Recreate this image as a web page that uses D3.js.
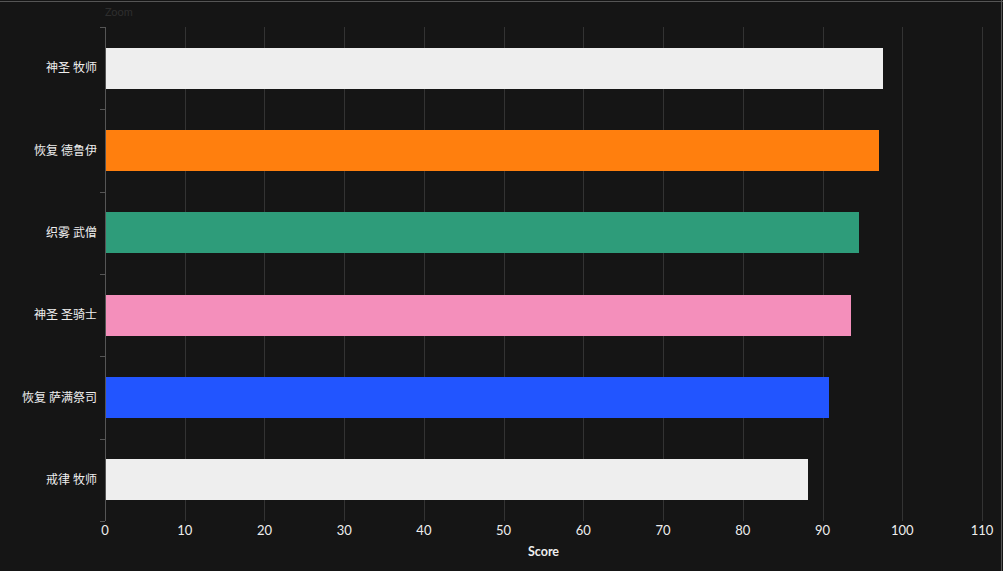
<!DOCTYPE html>
<html><head><meta charset="utf-8">
<script src="https://cdn.jsdelivr.net/npm/d3@7"></script>
<style>
html,body{margin:0;padding:0;background:#151515;}
svg{display:block;}
</style></head><body>
<svg id="c" width="1003" height="571"></svg>
<script>
const categories = ["神圣 牧师","恢复 德鲁伊","织雾 武僧","神圣 圣骑士","恢复 萨满祭司","戒律 牧师"];
const scores = [97.6, 97.1, 94.6, 93.6, 90.8, 88.2];
const barColors = ["#eeeeee","#ff7f0e","#2e9c7a","#f48fbb","#2255ff","#eeeeee"];
const xTicks = [0,10,20,30,40,50,60,70,80,90,100,110];

const svg = d3.select("#c");
const W = 1003, H = 571;
const m = {left:105, right:21, top:27, bottom:50};
const font = "Lato, 'Noto Sans CJK SC', sans-serif";

svg.append("rect").attr("x",0).attr("y",0).attr("width",W).attr("height",H).attr("fill","#151515");
// frame
svg.append("line").attr("x1",0).attr("x2",W).attr("y1",1.5).attr("y2",1.5).attr("stroke","#555");
svg.append("line").attr("x1",W-1.5).attr("x2",W-1.5).attr("y1",0).attr("y2",H).attr("stroke","#555");

const x = d3.scaleLinear().domain([0,110]).range([m.left, W - m.right]);
const y = d3.scaleBand().domain(categories).range([m.top, H - m.bottom]).paddingInner(0.5).paddingOuter(0.25);

// gridlines
svg.append("g").selectAll("line").data(xTicks.slice(1)).join("line")
  .attr("x1",d=>Math.round(x(d))+0.5).attr("x2",d=>Math.round(x(d))+0.5)
  .attr("y1",m.top).attr("y2",H - m.bottom)
  .attr("stroke","#333").attr("stroke-width",1);

// bars
svg.append("g").attr("shape-rendering","crispEdges").selectAll("rect").data(categories).join("rect")
  .attr("x",x(0)).attr("y",d=>y(d))
  .attr("width",(d,i)=>x(scores[i]) - x(0))
  .attr("height",y.bandwidth())
  .attr("fill",(d,i)=>barColors[i]);

// y axis line
svg.append("line").attr("x1",m.left+0.5).attr("x2",m.left+0.5)
  .attr("y1",m.top).attr("y2",H - m.bottom).attr("stroke","#555");
// y band-edge ticks
const edges = d3.range(categories.length+1).map(i => m.top + i*(H - m.bottom - m.top)/categories.length);
svg.append("g").selectAll("line").data(edges).join("line")
  .attr("x1",m.left-5).attr("x2",m.left)
  .attr("y1",d=>Math.round(d)+0.5).attr("y2",d=>Math.round(d)+0.5)
  .attr("stroke","#555");

// y labels
svg.append("g").selectAll("text").data(categories).join("text")
  .attr("x",m.left-8).attr("y",d=>y(d)+y.bandwidth()/2)
  .attr("dy","0.35em").attr("text-anchor","end")
  .attr("fill","#eeeeee").attr("font-size",12).attr("font-family",font)
  .text(d=>d);

// x tick labels
svg.append("g").selectAll("text").data(xTicks).join("text")
  .attr("x",d=>x(d)).attr("y",H - m.bottom + 14)
  .attr("text-anchor","middle").attr("fill","#eeeeee")
  .attr("font-size",13).attr("font-family",font)
  .text(d=>d);

// axis title
svg.append("text").attr("x",(x(0)+x(110))/2).attr("y",H - m.bottom + 35)
  .attr("text-anchor","middle").attr("fill","#eeeeee")
  .attr("font-size",12.5).attr("font-weight","bold").attr("font-family",font)
  .text("Score");

// zoom label
svg.append("text").attr("x",m.left).attr("y",16)
  .attr("fill","#2e2e2e").attr("font-size",11).attr("font-family",font)
  .text("Zoom");
</script>
</body></html>
